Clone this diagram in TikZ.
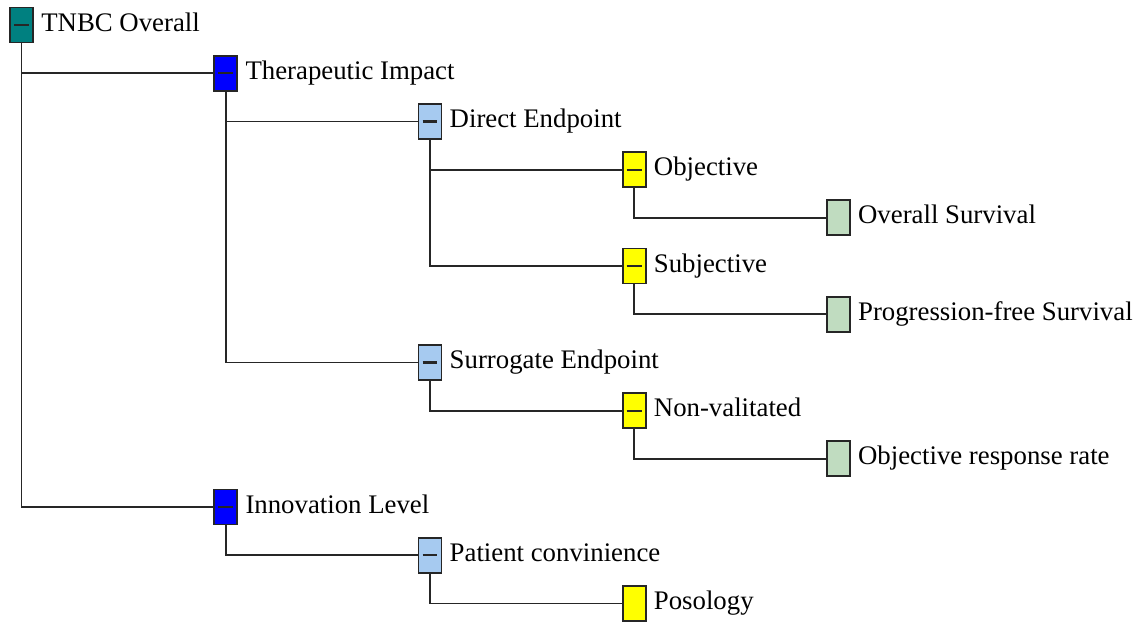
\documentclass[tikz,border=0pt]{standalone}
\usepackage{fontspec}
\setmainfont{Liberation Serif}
\usetikzlibrary{positioning}
\definecolor{rootteal}{HTML}{008080}
\definecolor{dimblue}{HTML}{0000FF}
\definecolor{endblue}{HTML}{A6CAF0}
\definecolor{crityellow}{HTML}{FFFF00}
\definecolor{leafgreen}{HTML}{C0DCC0}

\begin{document}
\begin{tikzpicture}[
  x=102.1pt, y=-24.1pt,
  nbox/.style={draw=black!85, line width=0.9pt, minimum width=11.5pt, minimum height=17.5pt, inner sep=0pt},
  fold/.style={path picture={\draw[black!85, line width=1.1pt] ([xshift=-3.7pt]path picture bounding box.center) -- ([xshift=3.7pt]path picture bounding box.center);}},
  nlbl/.style={anchor=base west, inner sep=0pt, font=\fontsize{13.4}{15}\selectfont},
  link/.style={draw=black!85, line width=0.9pt},
]
\useasboundingbox (-10.75pt,12.5pt) rectangle (559.25pt,-298.5pt);

% boxes
\node[nbox, fill=rootteal, fold]   (root) at (0,0)  {};
\node[nbox, fill=dimblue, fold]    (ti)   at (1,1)  {};
\node[nbox, fill=endblue, fold]    (de)   at (2,2)  {};
\node[nbox, fill=crityellow, fold] (obj)  at (3,3)  {};
\node[nbox, fill=leafgreen]        (os)   at (4,4)  {};
\node[nbox, fill=crityellow, fold] (subj) at (3,5)  {};
\node[nbox, fill=leafgreen]        (pfs)  at (4,6)  {};
\node[nbox, fill=endblue, fold]    (se)   at (2,7)  {};
\node[nbox, fill=crityellow, fold] (nv)   at (3,8)  {};
\node[nbox, fill=leafgreen]        (orr)  at (4,9)  {};
\node[nbox, fill=dimblue, fold]    (il)   at (1,10) {};
\node[nbox, fill=endblue, fold]    (pc)   at (2,11) {};
\node[nbox, fill=crityellow]       (pos)  at (3,12) {};

% labels
\node[nlbl] (rootT) at ([xshift=3.5pt, yshift=-3pt]root.east) {TNBC Overall};
\node[nlbl] (tiT)   at ([xshift=3.5pt, yshift=-3pt]ti.east)   {Therapeutic Impact};
\node[nlbl] (deT)   at ([xshift=3.5pt, yshift=-3pt]de.east)   {Direct Endpoint};
\node[nlbl] (objT)  at ([xshift=3.5pt, yshift=-3pt]obj.east)  {Objective};
\node[nlbl] (osT)   at ([xshift=3.5pt, yshift=-3pt]os.east)   {Overall Survival};
\node[nlbl] (subjT) at ([xshift=3.5pt, yshift=-3pt]subj.east) {Subjective};
\node[nlbl] (pfsT)  at ([xshift=3.5pt, yshift=-3pt]pfs.east)  {Progression-free Survival};
\node[nlbl] (seT)   at ([xshift=3.5pt, yshift=-3pt]se.east)   {Surrogate Endpoint};
\node[nlbl] (nvT)   at ([xshift=3.5pt, yshift=-3pt]nv.east)   {Non-valitated};
\node[nlbl] (orrT)  at ([xshift=3.5pt, yshift=-3pt]orr.east)  {Objective response rate};
\node[nlbl] (ilT)   at ([xshift=3.5pt, yshift=-3pt]il.east)   {Innovation Level};
\node[nlbl] (pcT)   at ([xshift=3.5pt, yshift=-3pt]pc.east)   {Patient convinience};
\node[nlbl] (posT)  at ([xshift=3.5pt, yshift=-3pt]pos.east)  {Posology};

% tree links
\foreach \a/\b in {root/ti, root/il, ti/de, ti/se, de/obj, de/subj, obj/os, subj/pfs, se/nv, nv/orr, il/pc, pc/pos}
  \draw[link] (\a) |- (\b);
\end{tikzpicture}
\end{document}
